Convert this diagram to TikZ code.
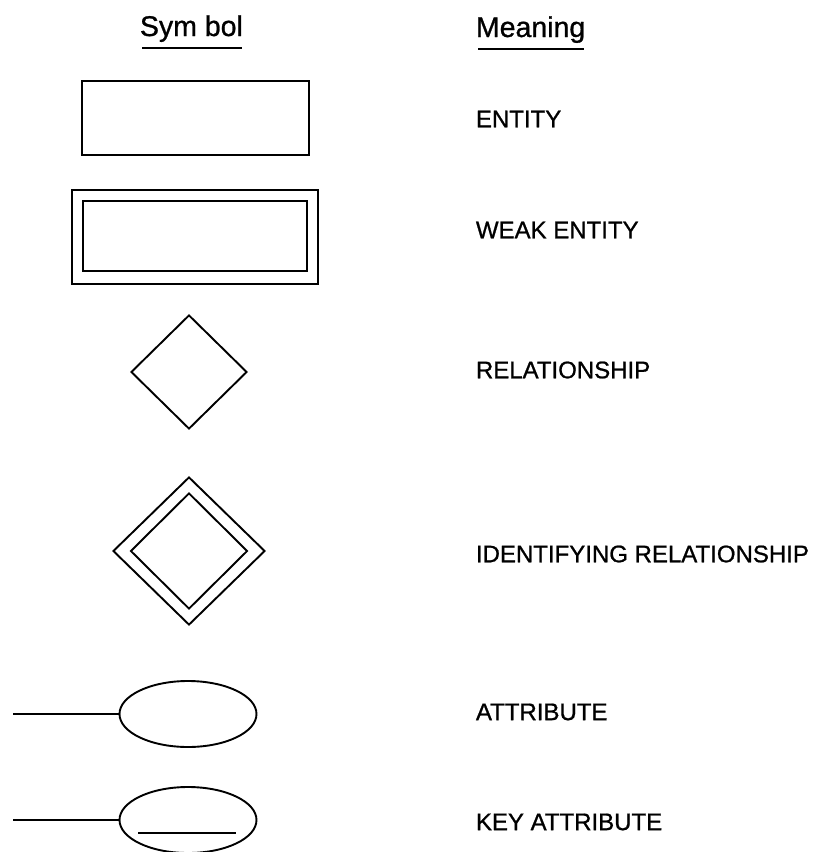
\documentclass[tikz,border=0pt]{standalone}
\usepackage{fontspec}
\setmainfont{Liberation Sans}
\newfontfamily\lblfont{Liberation Sans}[FakeBold=0.9]
\usetikzlibrary{shapes.geometric,calc}

\begin{document}
\begin{tikzpicture}[x=1pt,y=-1pt,line width=1.9pt,
  ent/.style={rectangle,draw,inner sep=0pt},
  rel/.style={diamond,draw,inner sep=0pt},
  att/.style={ellipse,draw,inner sep=0pt,minimum width=137,minimum height=66},
  lbl/.style={anchor=west,inner sep=0pt,font=\lblfont\fontsize{24}{28}\selectfont},
  hd/.style={anchor=base west,inner sep=0pt,font=\lblfont\fontsize{28.5}{34}\selectfont}]
\useasboundingbox (0,0) rectangle (822,852);
% column heads
\node[hd] (hsym) at (139,36) {Sym bol};
\node[hd] (hmean) at (475,37) {Meaning};
\foreach \h in {hsym,hmean}
  \draw[line width=1.6pt] ([xshift=3pt,yshift=-5pt]\h.south west) -- ([xshift=-2pt,yshift=-5pt]\h.south east);
% symbols
\node[ent,minimum width=227,minimum height=74] (E) at (195.5,118) {};
\node[ent,minimum width=246,minimum height=94] (W) at (195,237) {};
\node[ent,minimum width=224,minimum height=70] (Wi) at (195,236) {};
\node[rel,minimum width=116,minimum height=114] (R) at (189,372) {};
\node[rel,minimum width=152,minimum height=148] (IR) at (189,551) {};
\node[rel,minimum width=117,minimum height=116] (IRi) at (IR.center) {};
\node[att] (A) at (188,714) {};
\node[att] (KA) at (188,820) {};
\coordinate (a0) at (13,714);
\coordinate (k0) at (13,820);
\draw (a0) -- (A.west);
\draw (k0) -- (KA.west);
\draw ($(KA.center)+(-50,13)$) -- ($(KA.center)+(48,13)$);
% meanings
\foreach \n/\y/\t in {lE/119/ENTITY,lW/230/WEAK ENTITY,lR/370/RELATIONSHIP,
                      lIR/554/IDENTIFYING RELATIONSHIP,lA/712/ATTRIBUTE,lKA/822/KEY ATTRIBUTE}
  \node[lbl] (\n) at (475,\y) {\t};
\end{tikzpicture}
\end{document}
